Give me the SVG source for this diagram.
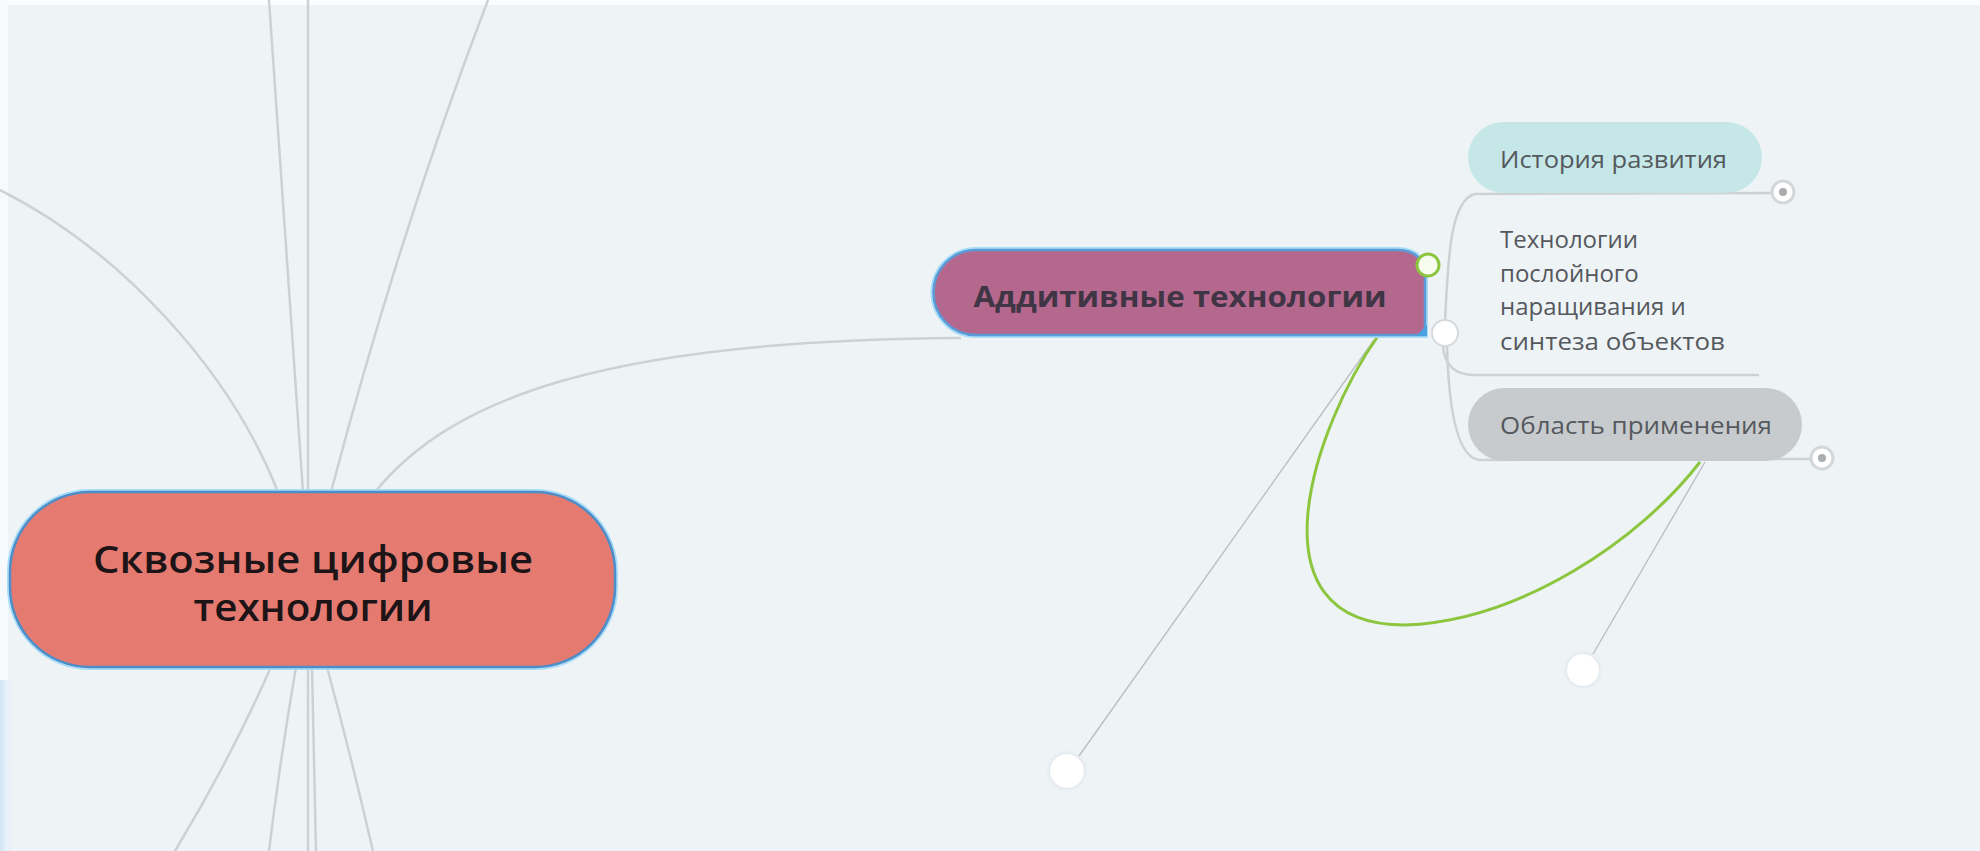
<svg xmlns="http://www.w3.org/2000/svg" width="1980" height="851" viewBox="0 0 1980 851">
<defs>
<style>
.conn{fill:none;stroke:#CDD1D4;stroke-width:2.5;stroke-linecap:round}
.thin{fill:none;stroke:#B9BDC1;stroke-width:1.3}
.sub{font-family:"Open Sans","Noto Sans",sans-serif;font-size:24px;fill:#55595E}
.knob{fill:#FFFFFF;stroke:#D3D7DA;stroke-width:3}
.dot{fill:#A9ADB1}
.ghost{fill:#FFFFFF;filter:url(#soft)}
</style>
<filter id="soft" x="-50%" y="-50%" width="200%" height="200%">
<feDropShadow dx="0" dy="0" stdDeviation="2" flood-color="#C8CED4" flood-opacity="0.7"/>
</filter>
<linearGradient id="leftglow" x1="0" y1="0" x2="1" y2="0">
<stop offset="0" stop-color="#CFE5F6"/>
<stop offset="1" stop-color="#EEF3F6" stop-opacity="0"/>
</linearGradient>
</defs>
<rect x="0" y="0" width="1980" height="851" fill="#EEF3F6"/>
<rect x="0" y="0" width="1980" height="5" fill="#FAFCFD"/>
<rect x="0" y="0" width="8" height="851" fill="#F7FAFC"/>
<rect x="0" y="680" width="16" height="171" fill="url(#leftglow)"/>

<g id="connectors">
<path class="conn" d="M0,190 C120,250 230,370 278,492"/>
<path class="conn" d="M269,0 Q286,250 303,492"/>
<path class="conn" d="M308,0 L308,492"/>
<path class="conn" d="M488,0 Q400,230 331,492"/>
<path class="conn" d="M375,492 C450,400 600,340 960,338"/>
<path class="conn" d="M271,667 Q230,760 175,851"/>
<path class="conn" d="M296,667 Q280,760 269,851"/>
<path class="conn" d="M308,667 L308,851"/>
<path class="conn" d="M312,667 Q314,760 316,851"/>
<path class="conn" d="M327,667 Q352,760 373,851"/>
<path class="conn" d="M1445,321 C1448,260 1450,200 1475,194 L1771,193"/>
<path class="conn" d="M1443,346 Q1445,375 1475,375 L1758,375"/>
<path class="conn" d="M1447,346 Q1450,458 1480,460 L1810,459"/>
<path class="thin" d="M1374,340 L1079,756"/>
<path class="thin" d="M1705,462 L1593,654"/>
<path d="M1378,336 C1315,425 1245,625 1405,625 C1520,621 1640,540 1700,462" fill="none" stroke="#8CC63F" stroke-width="3"/>
</g>

<g id="node-central">
<rect x="10" y="492" width="605" height="175" rx="80" fill="none" stroke="#A8DDF7" stroke-width="6"/>
<rect x="10" y="492" width="605" height="175" rx="80" fill="#E57B70" stroke="#4E8DC8" stroke-width="2.5"/>
<text x="313" y="573" text-anchor="middle" font-family="'Open Sans','Noto Sans',sans-serif" font-weight="600" font-size="38" fill="#1C1416" textLength="440" lengthAdjust="spacingAndGlyphs">Сквозные цифровые</text>
<text x="313" y="621" text-anchor="middle" font-family="'Open Sans','Noto Sans',sans-serif" font-weight="600" font-size="38" fill="#1C1416" textLength="239" lengthAdjust="spacingAndGlyphs">технологии</text>
</g>

<g id="node-additive">
<path d="M976,250 L1397,250 Q1425,250 1425,278 L1425,335 L976,335 A42.5,42.5 0 0 1 976,250 Z" fill="none" stroke="#A8DDF7" stroke-width="6"/>
<path d="M976,250 L1397,250 Q1425,250 1425,278 L1425,335 L976,335 A42.5,42.5 0 0 1 976,250 Z" fill="#B5688D" stroke="#5A9AD6" stroke-width="2.5"/>
<path d="M1416,336 L1427,325 L1427,336 Z" fill="#4AA3E0"/>
<text x="1180" y="307" text-anchor="middle" font-family="'Open Sans','Noto Sans',sans-serif" font-weight="700" font-size="28" fill="#3F3545" textLength="413" lengthAdjust="spacingAndGlyphs">Аддитивные технологии</text>
<circle cx="1428" cy="265" r="11" fill="#F7FCEF" stroke="#8CC63F" stroke-width="3"/>
<circle cx="1445" cy="333" r="13" fill="#FFFFFF" stroke="#D6DADD" stroke-width="2"/>
</g>

<g id="node-history">
<rect x="1468" y="122" width="294" height="71" rx="35.5" fill="#C6E7E7"/>
<text class="sub" x="1500" y="168" textLength="227" lengthAdjust="spacingAndGlyphs">История развития</text>
<circle class="knob" cx="1783" cy="192" r="11"/>
<circle class="dot" cx="1783" cy="192" r="4"/>
</g>

<g id="node-layered">
<text class="sub" x="1500" y="248">Технологии</text>
<text class="sub" x="1500" y="282">послойного</text>
<text class="sub" x="1500" y="315">наращивания и</text>
<text class="sub" x="1500" y="350" textLength="225" lengthAdjust="spacingAndGlyphs">синтеза объектов</text>
</g>

<g id="node-application">
<rect x="1468" y="388" width="334" height="73" rx="36.5" fill="#C8CBCE"/>
<text class="sub" x="1500" y="434" textLength="272" lengthAdjust="spacingAndGlyphs">Область применения</text>
<circle class="knob" cx="1822" cy="458" r="11"/>
<circle class="dot" cx="1822" cy="458" r="4"/>
</g>

<g id="node-handle-1">
<circle class="ghost" cx="1067" cy="771" r="17"/>
</g>
<g id="node-handle-2">
<circle class="ghost" cx="1583" cy="670" r="16"/>
</g>
</svg>
